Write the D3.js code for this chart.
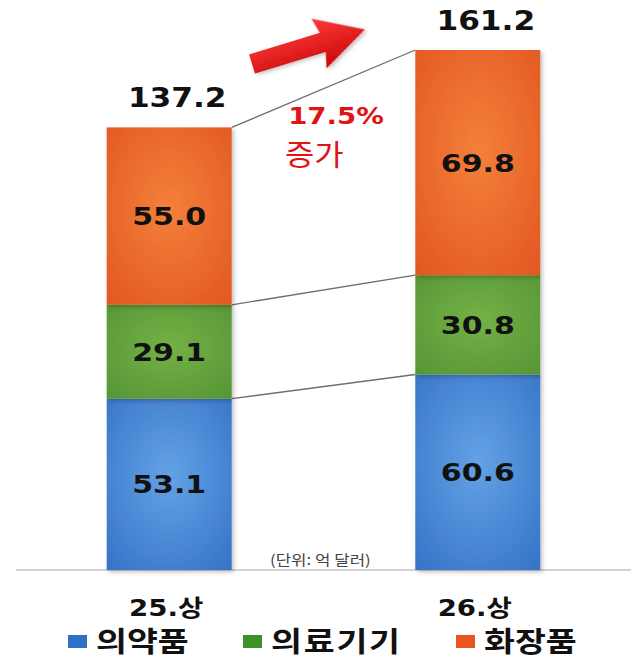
<!DOCTYPE html>
<html>
<head>
<meta charset="utf-8">
<script src="https://cdn.jsdelivr.net/npm/d3@7"></script>
<style>
  html, body { margin: 0; padding: 0; background: #fff; }
  svg { display: block; }
</style>
</head>
<body>
<div id="chart"></div>
<script>
// chart values
const periods = ["25.상", "26.상"];
const seriesNames = ["의약품", "의료기기", "화장품"];
const pharma = [53.1, 60.6];
const devices = [29.1, 30.8];
const cosmetics = [55.0, 69.8];
const totals = [137.2, 161.2];
const growthText = ["17.5%", "증가"];
const unitText = "(단위: 억 달러)";

const width = 639;
const height = 667;
const stretch = 1.2; // the source picture is a bit wide, so text is widened to match

const colors = {
  "의약품": ["#63a2e6", "#3572c6"],
  "의료기기": ["#74b146", "#559535"],
  "화장품": ["#f4803a", "#e15722"]
};
const swatch = { "의약품": "#2f6fc4", "의료기기": "#3f8f2a", "화장품": "#ea5420" };

const numFont = "'DejaVu Sans', 'Noto Sans CJK KR', sans-serif";
const krFont = "'Noto Sans CJK KR', 'DejaVu Sans', sans-serif";

// build rows for the stack
const rows = periods.map((p, i) => ({
  period: p,
  "의약품": pharma[i],
  "의료기기": devices[i],
  "화장품": cosmetics[i]
}));
const stacked = d3.stack().keys(seriesNames)(rows);

const svg = d3.select("#chart").append("svg")
  .attr("width", width)
  .attr("height", height);

const defs = svg.append("defs");
seriesNames.forEach((name, i) => {
  const g = defs.append("radialGradient")
    .attr("id", "grad" + i)
    .attr("cx", "50%").attr("cy", "45%").attr("r", "75%");
  g.append("stop").attr("offset", "0%").attr("stop-color", colors[name][0]);
  g.append("stop").attr("offset", "100%").attr("stop-color", colors[name][1]);
});
const arrowGrad = defs.append("linearGradient")
  .attr("id", "arrowGrad").attr("x1", 0).attr("y1", 0).attr("x2", 0).attr("y2", 1);
arrowGrad.append("stop").attr("offset", "0%").attr("stop-color", "#ff3b3b");
arrowGrad.append("stop").attr("offset", "100%").attr("stop-color", "#c80808");

const shadow = defs.append("filter").attr("id", "shadow")
  .attr("x", "-10%").attr("y", "-10%").attr("width", "130%").attr("height", "130%");
shadow.append("feDropShadow")
  .attr("dx", 2).attr("dy", 2).attr("stdDeviation", 2)
  .attr("flood-color", "#000").attr("flood-opacity", 0.25);

// scales
const x = d3.scaleBand()
  .domain(periods)
  .range([16, 631])
  .paddingInner(0.595)
  .paddingOuter(0.294);

const y = d3.scaleLinear()
  .domain([0, d3.max(totals)])
  .range([570, 50]);

// helper: widened text placed at (tx, ty)
const wideText = (sel, tx, ty, str) => sel.append("text")
  .attr("transform", `translate(${tx},${ty}) scale(${stretch},1)`)
  .text(str);

// baseline
svg.append("line")
  .attr("x1", 16).attr("x2", 631)
  .attr("y1", y(0)).attr("y2", y(0))
  .attr("stroke", "#c4c4c4")
  .attr("stroke-width", 1.5);

// connector lines between segment tops
const leftEdge = x(periods[0]) + x.bandwidth();
const rightEdge = x(periods[1]);
svg.append("g").selectAll("line")
  .data(stacked)
  .join("line")
  .attr("x1", leftEdge)
  .attr("x2", rightEdge)
  .attr("y1", s => y(s[0][1]))
  .attr("y2", s => y(s[1][1]))
  .attr("stroke", "#6e6e6e")
  .attr("stroke-width", 1.3);

// bars
const layers = svg.append("g").selectAll("g")
  .data(stacked)
  .join("g")
  .attr("fill", (s, i) => `url(#grad${i})`);

layers.selectAll("rect")
  .data(s => s)
  .join("rect")
  .attr("x", d => x(d.data.period))
  .attr("y", d => y(d[1]))
  .attr("width", x.bandwidth())
  .attr("height", d => y(d[0]) - y(d[1]))
  .attr("filter", "url(#shadow)");

// segment value labels
const segLabels = svg.append("g")
  .attr("font-family", numFont)
  .attr("font-weight", "bold")
  .attr("font-size", 25)
  .attr("fill", "#111")
  .attr("text-anchor", "middle");
stacked.forEach(s => {
  s.forEach(d => {
    wideText(segLabels,
      x(d.data.period) + x.bandwidth() / 2,
      (y(d[0]) + y(d[1])) / 2 + 9,
      (d[1] - d[0]).toFixed(1));
  });
});

// totals above bars
const totalLabels = svg.append("g")
  .attr("font-family", numFont)
  .attr("font-weight", "bold")
  .attr("font-size", 26)
  .attr("fill", "#111")
  .attr("text-anchor", "middle");
periods.forEach((p, i) => {
  wideText(totalLabels, x(p) + x.bandwidth() / 2 + 8, y(totals[i]) - 20, totals[i].toFixed(1));
});

// red arrow
svg.append("path")
  .attr("d", "M0,-10 L74,-10 L70,-26 L118,0 L70,26 L74,10 L0,10 Z")
  .attr("transform", "translate(252,64) rotate(-17)")
  .attr("fill", "url(#arrowGrad)")
  .attr("filter", "url(#shadow)");

// growth text
svg.append("text")
  .attr("transform", `translate(336,124) scale(${stretch},1)`)
  .attr("text-anchor", "middle")
  .attr("font-family", numFont)
  .attr("font-weight", "bold")
  .attr("font-size", 23)
  .attr("fill", "#e01414")
  .text(growthText[0]);

svg.append("text")
  .attr("transform", `translate(285,166) scale(1.1,1)`)
  .attr("font-family", krFont)
  .attr("font-size", 29)
  .attr("fill", "#e01414")
  .text(growthText[1]);

// unit note
svg.append("text")
  .attr("transform", `translate(270,565) scale(${stretch},1)`)
  .attr("font-family", krFont)
  .attr("font-size", 14)
  .attr("fill", "#444")
  .text(unitText);

// category labels
const catLabels = svg.append("g")
  .attr("font-family", numFont)
  .attr("font-weight", "bold")
  .attr("font-size", 23)
  .attr("fill", "#111")
  .attr("text-anchor", "middle");
periods.forEach(p => {
  wideText(catLabels, x(p) + x.bandwidth() / 2 - 3, 616, p);
});

// legend
const legendX = [68, 243, 456];
const legend = svg.append("g").selectAll("g")
  .data(seriesNames)
  .join("g")
  .attr("transform", (d, i) => `translate(${legendX[i]},635)`);

legend.append("rect")
  .attr("width", 19)
  .attr("height", 13)
  .attr("fill", d => swatch[d]);

legend.append("text")
  .attr("transform", `translate(28,17) scale(${stretch},1)`)
  .attr("font-family", krFont)
  .attr("font-weight", "bold")
  .attr("font-size", 28)
  .attr("letter-spacing", d => d.length > 3 ? 1.5 : 0)
  .attr("fill", "#111")
  .text(d => d);
</script>
</body>
</html>
